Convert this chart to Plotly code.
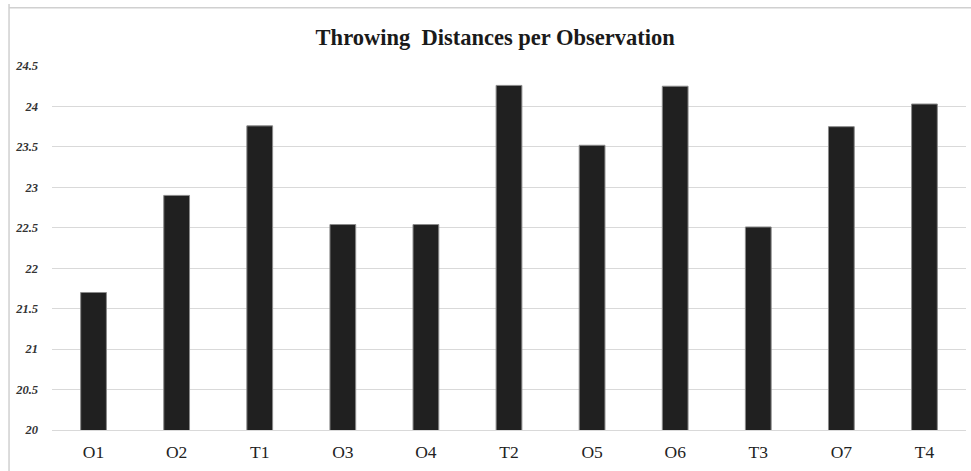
import plotly.graph_objects as go

categories = ["O1", "O2", "T1", "O3", "O4", "T2", "O5", "O6", "T3", "O7", "T4"]
distances = [21.70, 22.90, 23.76, 22.54, 22.54, 24.26, 23.52, 24.25, 22.51, 23.75, 24.03]
y_ticks = [20, 20.5, 21, 21.5, 22, 22.5, 23, 23.5, 24, 24.5]
y_tick_text = ["20", "20.5", "21", "21.5", "22", "22.5", "23", "23.5", "24", "24.5"]

fig = go.Figure(go.Bar(
    x=categories, y=distances,
    marker=dict(color="#202020", line=dict(color="#8a8a8a", width=1)),
    width=0.31,
))

fig.update_layout(
    width=971, height=471,
    margin=dict(l=52, r=5, t=66, b=41),
    paper_bgcolor="white", plot_bgcolor="white",
    showlegend=False,
    title=dict(text="<b>Throwing  Distances per Observation</b>", x=0.51, xanchor="center",
               y=0.922, yanchor="middle",
               font=dict(family="Liberation Serif", size=22.5, color="#1a1a1a")),
    xaxis=dict(showgrid=False, showline=True, linecolor="#d9d9d9", linewidth=1,
               tickfont=dict(family="Liberation Serif", size=17.5, color="#222222"),
               ticks="", ticklabelstandoff=6),
    yaxis=dict(range=[20, 24.5], tickvals=y_ticks, ticktext=y_tick_text,
               showgrid=True, gridcolor="#d9d9d9", gridwidth=1, zeroline=False,
               tickfont=dict(family="Liberation Serif", size=12.5, color="#333333",
                             style="italic", weight="bold"),
               ticks="", ticklabelstandoff=13),
    shapes=[
        dict(type="line", xref="paper", yref="paper", x0=-0.047, x1=-0.047, y0=-0.2, y1=1.17,
             line=dict(color="#d0d0d0", width=1.5)),
        dict(type="line", xref="paper", yref="paper", x0=-0.047, x1=1.01, y0=1.16, y1=1.16,
             line=dict(color="#d0d0d0", width=1.5)),
    ],
)

fig.write_html("out.html", config={"displayModeBar": False},
               post_script="document.body.style.margin='0';")
